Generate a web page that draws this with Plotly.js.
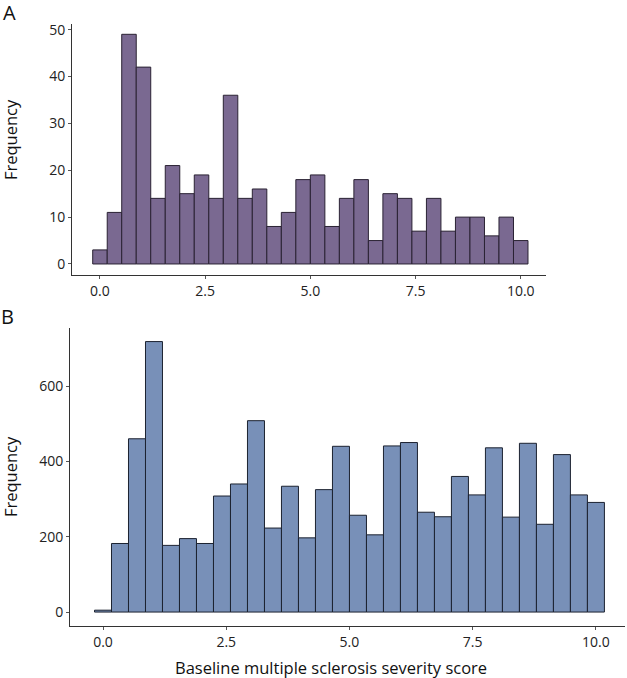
<!DOCTYPE html>
<html>
<head>
<meta charset="utf-8">
<script src="https://cdn.plot.ly/plotly-3.0.1.min.js"></script>
<style>
  html, body { margin: 0; padding: 0; background: #fff; }
  #chart { width: 627px; height: 678px; }
</style>
</head>
<body>
<div id="chart"></div>
<script>
// counts per bin, 30 bins of width 10/29 centred on 0 ... 10
var countsA = [3, 11, 49, 42, 14, 21, 15, 19, 14, 36, 14, 16, 8, 11, 18,
               19, 8, 14, 18, 5, 15, 14, 7, 14, 7, 10, 10, 6, 10, 5];
var countsB = [5, 182, 460, 718, 177, 195, 182, 308, 340, 508, 223, 334, 197, 325, 440,
               257, 205, 441, 450, 265, 253, 360, 311, 436, 252, 448, 233, 418, 311, 291];
var xTicks = [0, 2.5, 5, 7.5, 10];
var xTickText = ['0.0', '2.5', '5.0', '7.5', '10.0'];
var yTicksA = [0, 10, 20, 30, 40, 50];
var yTicksB = [0, 200, 400, 600];

var binWidth = 10 / 29;
var centers = countsA.map(function (c, i) { return i * binWidth; });

var trace1 = {
    x: centers,
    y: countsA,
    type: 'bar',
    width: binWidth,
    marker: { color: '#7a6991', line: { color: '#2a2233', width: 1 } },
    xaxis: 'x',
    yaxis: 'y',
    hoverinfo: 'x+y'
};

var trace2 = {
    x: centers,
    y: countsB,
    type: 'bar',
    width: binWidth,
    marker: { color: '#7890b8', line: { color: '#1c2230', width: 1 } },
    xaxis: 'x2',
    yaxis: 'y2',
    hoverinfo: 'x+y'
};

var tickFont = { family: 'Open Sans', size: 14, color: '#222' };
var titleFont = { family: 'Open Sans', size: 16.5, color: '#111' };
var panelFont = { family: 'Open Sans', size: 20, color: '#111' };

function axisStyle(extra) {
    var base = {
        showline: true,
        linecolor: '#333',
        linewidth: 1,
        ticks: 'outside',
        ticklen: 3,
        tickcolor: '#555',
        showgrid: false,
        zeroline: false,
        tickfont: tickFont,
        fixedrange: true
    };
    for (var k in extra) base[k] = extra[k];
    return base;
}

function note(text, px, py, font, angle) {
    return {
        text: text, xref: 'paper', yref: 'paper',
        x: px / 627, y: 1 - py / 678,
        xanchor: 'center', yanchor: 'middle',
        textangle: angle || 0, showarrow: false, font: font
    };
}

var layout = {
    width: 627,
    height: 678,
    margin: { l: 0, r: 0, t: 0, b: 0 },
    paper_bgcolor: '#ffffff',
    plot_bgcolor: '#ffffff',
    showlegend: false,
    bargap: 0,
    xaxis: axisStyle({
        domain: [0.1148, 0.8708], anchor: 'y', range: [-0.665, 10.6],
        tickvals: xTicks, ticktext: xTickText
    }),
    yaxis: axisStyle({
        domain: [0.5944, 0.9646], anchor: 'x', range: [-2.35, 51.2],
        tickvals: yTicksA
    }),
    xaxis2: axisStyle({
        domain: [0.1116, 0.9968], anchor: 'y2', range: [-0.67, 10.59],
        tickvals: xTicks, ticktext: xTickText
    }),
    yaxis2: axisStyle({
        domain: [0.0767, 0.5162], anchor: 'x2', range: [-37, 754],
        tickvals: yTicksB
    }),
    annotations: [
        note('A', 9, 12, panelFont),
        note('B', 7, 316, panelFont),
        note('Frequency', 10, 140, titleFont, -90),
        note('Frequency', 10, 477, titleFont, -90),
        note('Baseline multiple sclerosis severity score', 331, 667, titleFont)
    ]
};

Plotly.newPlot('chart', [trace1, trace2], layout, { displayModeBar: false, staticPlot: true });
</script>
</body>
</html>
